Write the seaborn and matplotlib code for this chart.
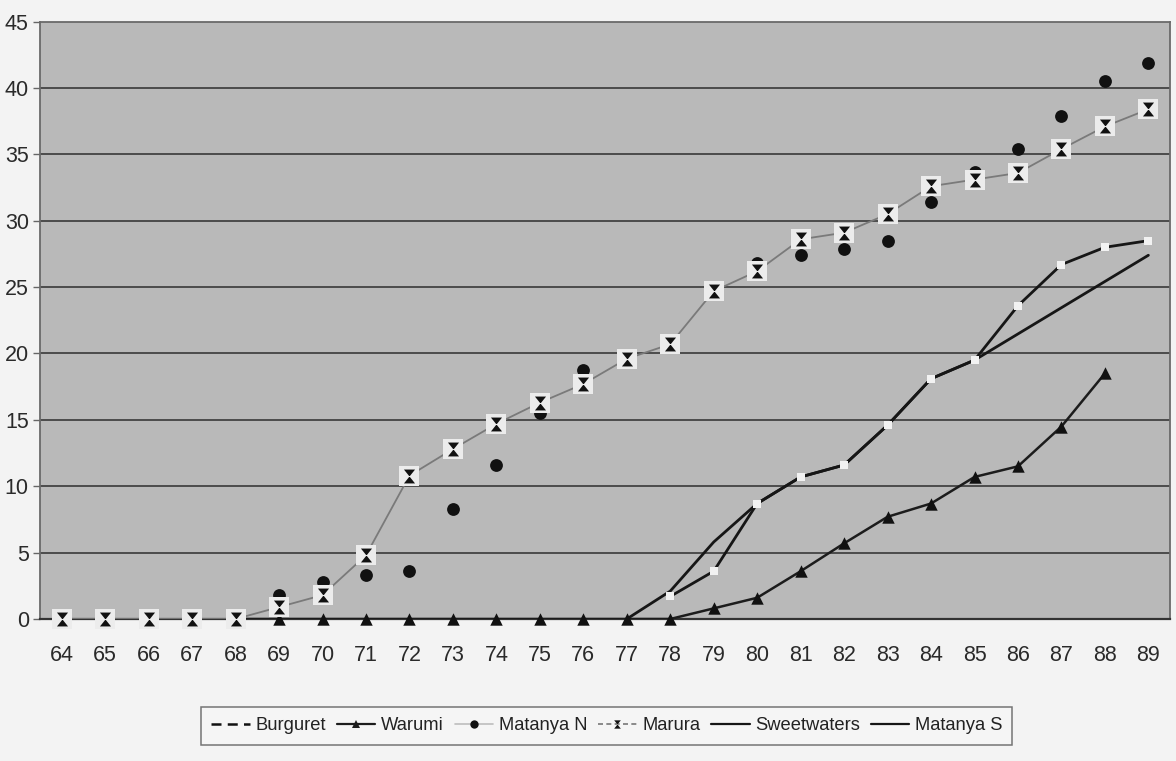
import matplotlib
matplotlib.use("Agg")
import matplotlib.pyplot as plt
from matplotlib.path import Path
from matplotlib.lines import Line2D
import pandas as pd
import seaborn as sns

# ---- data -------------------------------------------------------------
year_labels = [64, 65, 66, 67, 68, 69, 70, 71, 72, 73, 74, 75, 76,
               77, 78, 79, 80, 81, 82, 83, 84, 85, 86, 87, 88, 89]

burguret_years = [68, 69, 70, 71, 72, 73, 74, 75, 76, 77, 78]
burguret = [0, 0, 0, 0, 0, 0, 0, 0, 0, 0, 0]

warumi_years = [68, 69, 70, 71, 72, 73, 74, 75, 76, 77, 78,
                79, 80, 81, 82, 83, 84, 85, 86, 87, 88]
warumi = [0, 0, 0, 0, 0, 0, 0, 0, 0, 0, 0,
          0.8, 1.6, 3.6, 5.7, 7.7, 8.7, 10.7, 11.5, 14.5, 18.5]

matanya_n_years = [69, 70, 71, 72, 73, 74, 75, 76,
                   80, 81, 82, 83, 84, 85, 86, 87, 88, 89]
matanya_n = [1.8, 2.8, 3.3, 3.6, 8.3, 11.6, 15.5, 18.75,
             26.8, 27.4, 27.9, 28.5, 31.4, 33.7, 35.4, 37.9, 40.5, 41.9]

marura_years = year_labels
marura = [0, 0, 0, 0, 0, 0.9, 1.8, 4.8, 10.8, 12.8, 14.7, 16.3, 17.7,
          19.6, 20.7, 24.7, 26.2, 28.6, 29.1, 30.5, 32.6, 33.1, 33.6,
          35.4, 37.1, 38.4]

sweetwaters_years = [78, 79, 80, 81, 82, 83, 84, 85, 86, 87, 88, 89]
sweetwaters = [1.7, 3.6, 8.7, 10.7, 11.6, 14.6, 18.1, 19.5, 23.6, 26.7, 28.0, 28.5]

matanya_s_years = [77, 78, 79, 80, 81, 82, 83, 84, 85, 89]
matanya_s = [0, 2.1, 5.8, 8.7, 10.7, 11.6, 14.6, 18.1, 19.5, 27.4]

y_ticks = [0, 5, 10, 15, 20, 25, 30, 35, 40, 45]

# ---- style ------------------------------------------------------------
sns.set_style("white")
plt.rcParams["font.family"] = ["Liberation Sans", "DejaVu Sans"]

fig = plt.figure(figsize=(11.76, 7.61), dpi=100, facecolor="#f3f3f3")
ax = fig.add_axes([0.034, 0.1866, 0.961, 0.785])
ax.set_facecolor("#b9b9b9")

# hourglass marker used for Marura
hourglass = Path(
    [(-0.8, 1), (0.8, 1), (0, 0), (-0.8, 1),
     (-0.8, -1), (0.8, -1), (0, 0), (-0.8, -1)],
    [Path.MOVETO, Path.LINETO, Path.LINETO, Path.CLOSEPOLY,
     Path.MOVETO, Path.LINETO, Path.LINETO, Path.CLOSEPOLY],
)


def frame(xs, ys):
    return pd.DataFrame({"year": xs, "value": ys})


# lines
sns.lineplot(data=frame(burguret_years, burguret), x="year", y="value",
             estimator=None, ax=ax, color="#111111", lw=2.0,
             linestyle=(0, (5, 3)), zorder=3)
sns.lineplot(data=frame(warumi_years, warumi), x="year", y="value",
             estimator=None, ax=ax, color="#1c1c1c", lw=1.8, zorder=3)
sns.lineplot(data=frame(marura_years, marura), x="year", y="value",
             estimator=None, ax=ax, color="#7a7a7a", lw=1.3, zorder=3)
sns.lineplot(data=frame(matanya_s_years, matanya_s), x="year", y="value",
             estimator=None, ax=ax, color="#161616", lw=2.0, zorder=3)
sns.lineplot(data=frame(sweetwaters_years, sweetwaters), x="year", y="value",
             estimator=None, ax=ax, color="#161616", lw=2.0, zorder=3)

# markers
sns.scatterplot(data=frame(warumi_years, warumi), x="year", y="value", ax=ax,
                marker="^", s=80, color="#111111", linewidth=0, zorder=4,
                clip_on=False)
sns.scatterplot(data=frame(sweetwaters_years, sweetwaters), x="year", y="value",
                ax=ax, marker="s", s=28, color="#f2f2f2", linewidth=0, zorder=4,
                clip_on=False)
sns.scatterplot(data=frame(matanya_n_years, matanya_n), x="year", y="value",
                ax=ax, marker="o", s=85, color="#111111", linewidth=0, zorder=5)
sns.scatterplot(data=frame(marura_years, marura), x="year", y="value", ax=ax,
                marker="s", s=190, color="#ececec", linewidth=0, zorder=6,
                clip_on=False)
sns.scatterplot(data=frame(marura_years, marura), x="year", y="value", ax=ax,
                marker=hourglass, s=100, color="#111111", linewidth=0, zorder=7,
                clip_on=False)

# ---- axes -------------------------------------------------------------
ax.set_xlim(63.5, 89.5)
ax.set_ylim(0, 45)
ax.set_xticks(year_labels)
ax.set_xticklabels([str(y) for y in year_labels])
ax.set_xticks([y - 0.5 for y in year_labels] + [89.5], minor=True)
ax.tick_params(axis="x", which="major", length=0, pad=19, labelsize=15.5,
               labelcolor="#2a2a2a")
ax.tick_params(axis="x", which="minor", length=6, width=1, color="#666666",
               direction="out")
ax.set_yticks(y_ticks)
ax.tick_params(axis="y", which="major", length=5, width=1, color="#666666",
               pad=3, labelsize=15.5, labelcolor="#2a2a2a", left=True)
ax.set_xlabel("")
ax.set_ylabel("")

for y in y_ticks[1:-1]:
    ax.axhline(y, color="#4c4c4c", lw=1.4, zorder=1)

for side in ["left", "top", "right"]:
    ax.spines[side].set_color("#6a6a6a")
    ax.spines[side].set_linewidth(1.3)
ax.spines["bottom"].set_color("#333333")
ax.spines["bottom"].set_linewidth(1.6)

# ---- legend -----------------------------------------------------------
handles = [
    Line2D([], [], color="#111111", lw=1.8, linestyle=(0, (4, 2.5))),
    Line2D([], [], color="#1c1c1c", lw=1.6, marker="^", markersize=6,
           markeredgewidth=0),
    Line2D([], [], color="#bdbdbd", lw=1.2, marker="o", markersize=6,
           markerfacecolor="#111111", markeredgewidth=0),
    Line2D([], [], color="#777777", lw=1.2, linestyle=(0, (3, 2)),
           marker=hourglass, markersize=6, markerfacecolor="#111111",
           markeredgewidth=0),
    Line2D([], [], color="#161616", lw=1.6),
    Line2D([], [], color="#161616", lw=1.6),
]
labels = ["Burguret", "Warumi", "Matanya N", "Marura", "Sweetwaters", "Matanya S"]
leg = fig.legend(handles, labels, loc="center", bbox_to_anchor=(0.516, 0.046),
                 ncol=6, frameon=True, fancybox=False, edgecolor="#555555",
                 facecolor="#f6f6f6", fontsize=13.2, handlelength=2.1,
                 handletextpad=0.3, columnspacing=0.6, borderpad=0.55)
leg.get_frame().set_linewidth(1.1)
for t in leg.get_texts():
    t.set_color("#222222")

fig.savefig("out.png", dpi=100, facecolor=fig.get_facecolor())
